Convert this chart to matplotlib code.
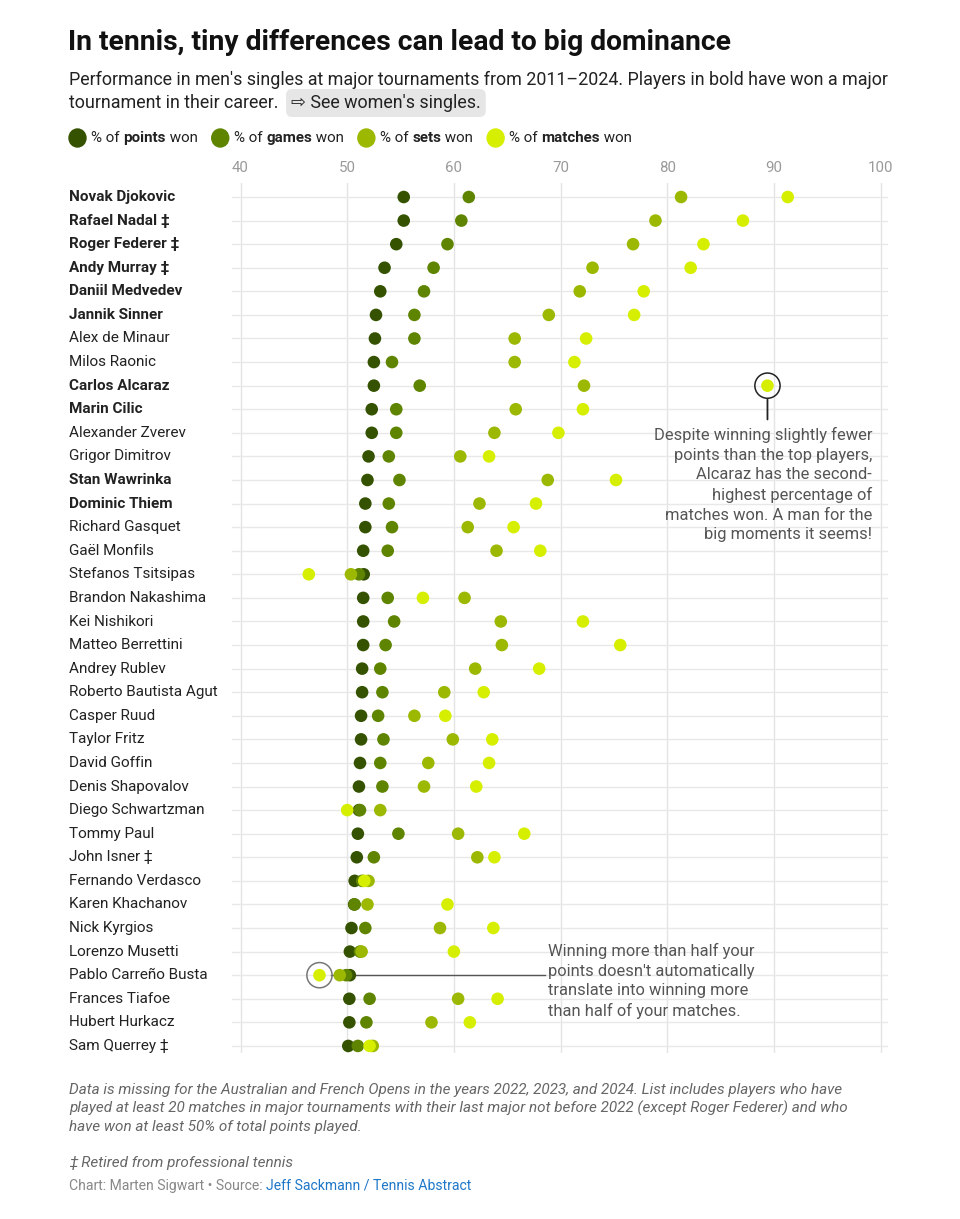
import matplotlib
matplotlib.use("Agg")
import matplotlib.pyplot as plt
from matplotlib.patches import Ellipse

plt.rcParams['font.family'] = ['Roboto', 'DejaVu Sans']

players = ["Novak Djokovic", "Rafael Nadal ‡", "Roger Federer ‡", "Andy Murray ‡", "Daniil Medvedev",
           "Jannik Sinner", "Alex de Minaur", "Milos Raonic", "Carlos Alcaraz", "Marin Cilic",
           "Alexander Zverev", "Grigor Dimitrov", "Stan Wawrinka", "Dominic Thiem", "Richard Gasquet",
           "Gaël Monfils", "Stefanos Tsitsipas", "Brandon Nakashima", "Kei Nishikori", "Matteo Berrettini",
           "Andrey Rublev", "Roberto Bautista Agut", "Casper Ruud", "Taylor Fritz", "David Goffin",
           "Denis Shapovalov", "Diego Schwartzman", "Tommy Paul", "John Isner ‡", "Fernando Verdasco",
           "Karen Khachanov", "Nick Kyrgios", "Lorenzo Musetti", "Pablo Carreño Busta", "Frances Tiafoe",
           "Hubert Hurkacz", "Sam Querrey ‡"]
major_winners = ["Novak Djokovic", "Rafael Nadal ‡", "Roger Federer ‡", "Andy Murray ‡", "Daniil Medvedev",
                 "Jannik Sinner", "Carlos Alcaraz", "Marin Cilic", "Stan Wawrinka", "Dominic Thiem"]

points_won = [55.3, 55.3, 54.6, 53.5, 53.1, 52.7, 52.6, 52.5, 52.5, 52.3, 52.3, 52.0, 51.9, 51.7, 51.7,
              51.5, 51.55, 51.5, 51.5, 51.5, 51.4, 51.4, 51.3, 51.3, 51.2, 51.1, 51.1, 51.0, 50.9, 50.7,
              50.65, 50.4, 50.25, 50.25, 50.2, 50.2, 50.1]
games_won = [61.4, 60.7, 59.4, 58.1, 57.2, 56.3, 56.3, 54.2, 56.8, 54.6, 54.6, 53.9, 54.9, 53.9, 54.2,
             53.8, 51.1, 53.8, 54.4, 53.6, 53.1, 53.3, 52.9, 53.4, 53.1, 53.3, 51.2, 54.8, 52.5, 51.4,
             50.7, 51.7, 51.2, 49.9, 52.1, 51.8, 51.0]
sets_won = [81.3, 78.9, 76.8, 73.0, 71.8, 68.9, 65.7, 65.7, 72.2, 65.8, 63.8, 60.6, 68.8, 62.4, 61.3,
            64.0, 50.35, 61.0, 64.4, 64.5, 62.0, 59.1, 56.3, 59.9, 57.6, 57.2, 53.1, 60.4, 62.2, 52.0,
            51.9, 58.7, 51.35, 49.3, 60.4, 57.9, 52.4]
matches_won = [91.3, 87.1, 83.4, 82.2, 77.8, 76.9, 72.4, 71.3, 89.4, 72.1, 69.8, 63.3, 75.2, 67.7, 65.6,
               68.1, 46.4, 57.1, 72.1, 75.6, 68.0, 62.8, 59.2, 63.6, 63.3, 62.1, 50.0, 66.6, 63.8, 51.6,
               59.4, 63.7, 60.0, 47.4, 64.1, 61.5, 52.1]

series_labels = [("% of ", "points", " won"), ("% of ", "games", " won"),
                 ("% of ", "sets", " won"), ("% of ", "matches", " won")]
series_colors = ["#345200", "#5e8400", "#9cb800", "#d6ef00"]
x_ticks = [40, 50, 60, 70, 80, 90, 100]

W, H = 960, 1219
fig = plt.figure(figsize=(W / 100, H / 100), dpi=100)
fig.patch.set_facecolor("white")


def fx(x):
    return x / W


def fy(y):
    return 1 - y / H


# axes: x 232..888 px, y 183..1053 px
ax = fig.add_axes([fx(232), fy(1053), (888 - 232) / W, (1053 - 183) / H])
n = len(players)
ax.set_xlim(39.2, 100.7)
ax.set_ylim(n - 1 + 0.30, -0.594)
for s in ax.spines.values():
    s.set_visible(False)
ax.set_xticks(x_ticks)
ax.set_yticks([])
ax.tick_params(axis='x', length=0, top=False, bottom=False, labeltop=True, labelbottom=False,
               labelsize=10.8, labelcolor="#9a9a9a", pad=6)
ax.xaxis.set_ticks_position('top')
for xt in x_ticks:
    ax.axvline(xt, color="#e4e4e4", lw=1.0, zorder=0)
for i in range(n):
    ax.axhline(i, color="#e8e8e8", lw=1.0, zorder=0)

ys = list(range(n))
for vals, col in zip([points_won, games_won, sets_won, matches_won], series_colors):
    ax.scatter(vals, ys, s=82, color=col, edgecolors='none', zorder=3)

# player names
y0_px, dy_px = 197, (1046 - 197) / (n - 1)
for i, name in enumerate(players):
    bold = name in major_winners
    fig.text(fx(69), fy(y0_px + i * dy_px), name, ha='left', va='center', fontsize=11.0,
             color="#222222", fontweight='bold' if bold else 'normal')

# annotations
ia = players.index("Carlos Alcaraz")
ax.scatter([matches_won[ia]], [ia], s=330, facecolors='none', edgecolors="#222222", linewidths=1.1, zorder=4)
ax.annotate("", xy=(matches_won[ia], ia + 1.55), xytext=(matches_won[ia], ia + 0.47),
            arrowprops=dict(arrowstyle='-', color="#222222", lw=1.3), zorder=4)
fig.text(fx(872), fy(427),
         "Despite winning slightly fewer\npoints than the top players,\nAlcaraz has the second-\nhighest percentage of\nmatches won. A man for the\nbig moments it seems!",
         ha='right', va='top', fontsize=11.9, color="#555555", linespacing=1.38)

ic = players.index("Pablo Carreño Busta")
ax.scatter([matches_won[ic]], [ic], s=330, facecolors='none', edgecolors="#777777", linewidths=1.1, zorder=4)
ax.plot([matches_won[ic] + 1.05, 68.5], [ic, ic], color="#555555", lw=1.0, zorder=2.5)
fig.text(fx(548), fy(943),
         "Winning more than half your\npoints doesn't automatically\ntranslate into winning more\nthan half of your matches.",
         ha='left', va='top', fontsize=11.9, color="#555555", linespacing=1.38)

# title & subtitle
fig.text(fx(68), fy(42), "In tennis, tiny differences can lead to big dominance", ha='left', va='center',
         fontsize=20.3, fontweight='bold', color="#111111")
fig.text(fx(69), fy(80), "Performance in men's singles at major tournaments from 2011–2024. Players in bold have won a major",
         ha='left', va='center', fontsize=12.85, color="#222222")
fig.text(fx(69), fy(103), "tournament in their career.", ha='left', va='center', fontsize=12.85, color="#222222")
fig.text(fx(291), fy(103), "⇨ See women's singles.", ha='left', va='center', fontsize=12.85, color="#222222",
         bbox=dict(boxstyle='round,pad=0.28,rounding_size=0.35', fc="#e6e6e6", ec='none'))

# legend
renderer = fig.canvas.get_renderer()
lx = 69
for (pre, mid, post), col in zip(series_labels, series_colors):
    fig.patches.append(Ellipse((fx(lx + 8.5), fy(138)), width=17 / W, height=18 / H,
                               transform=fig.transFigure, color=col, figure=fig))
    x = lx + 22
    for part, wt in [(pre, 'normal'), (mid, 'bold'), (post, 'normal')]:
        t = fig.text(fx(x), fy(138), part, ha='left', va='center', fontsize=10.9, color="#222222", fontweight=wt)
        x += t.get_window_extent(renderer).width
    lx = x + 14

# footer
fig.text(fx(69), fy(1083),
         "Data is missing for the Australian and French Opens in the years 2022, 2023, and 2024. List includes players who have\n"
         "played at least 20 matches in major tournaments with their last major not before 2022 (except Roger Federer) and who\n"
         "have won at least 50% of total points played.",
         ha='left', va='top', fontsize=11.0, color="#666666", style='italic', linespacing=1.34)
fig.text(fx(69), fy(1163), "‡ Retired from professional tennis", ha='left', va='center', fontsize=11.0,
         color="#666666", style='italic')
t = fig.text(fx(69), fy(1186), "Chart: Marten Sigwart • Source: ", ha='left', va='center', fontsize=10.1, color="#888888")
w = t.get_window_extent(renderer).width
fig.text(fx(69 + w), fy(1186), "Jeff Sackmann / Tennis Abstract", ha='left', va='center', fontsize=10.1, color="#1f77c8")

fig.savefig("out.png", dpi=100, facecolor="white")
